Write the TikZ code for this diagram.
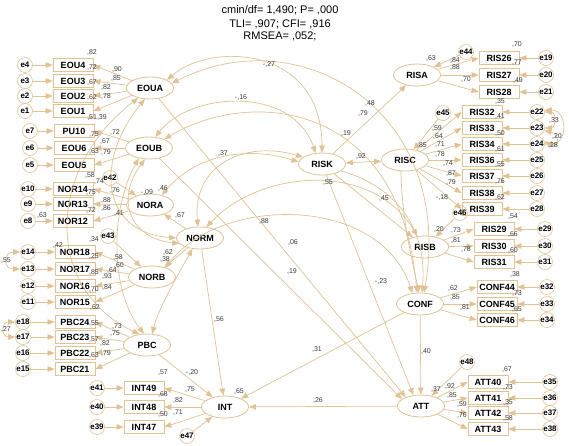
\documentclass[tikz,border=0pt]{standalone}
\usepackage{fontspec}
\setmainfont{Liberation Sans}
\usetikzlibrary{shapes.geometric,arrows.meta}
\definecolor{amos}{RGB}{224,194,148}
\definecolor{numc}{RGB}{60,60,60}
\newcounter{lc}
\newcommand\wl[2]{\stepcounter{lc}\node[lbl] (L\thelc) at (#1) {#2};}
\begin{document}
\begin{tikzpicture}[x=1pt,y=-1pt,
  lat/.style={ellipse, draw=amos, line width=0.8pt, minimum width=47pt, minimum height=22pt, inner sep=0pt, font=\bfseries\fontsize{9}{10}\selectfont},
  obs/.style={rectangle, draw=amos, line width=0.8pt, minimum width=40pt, minimum height=13pt, inner sep=0pt, font=\bfseries\fontsize{9}{10}\selectfont},
  err/.style={circle, draw=amos, line width=0.6pt, minimum size=15pt, inner sep=0pt, font=\bfseries\fontsize{8}{9}\selectfont},
  arr/.style={draw=amos, line width=0.7pt, -{Triangle[length=7pt,width=5.5pt]}},
  cov/.style={draw=amos, line width=0.7pt, {Triangle[length=7pt,width=5.5pt]}-{Triangle[length=7pt,width=5.5pt]}},
  lbl/.style={font=\fontsize{7}{8}\selectfont, text=numc, inner sep=0pt},
  ttl/.style={font=\fontsize{11}{12}\selectfont, inner sep=0pt}]
\fill[white] (0,0) rectangle (569,445);
\useasboundingbox (0,0) rectangle (569,445);
% title
\node[ttl] (t1) at (280,10) {cmin/df= 1,490; P= ,000};
\node[ttl] (t2) at (280,24) {TLI= ,907; CFI= ,916};
\node[ttl] (t3) at (280,36) {RMSEA= ,052;};
% latent variables
\node[lat] (EOUA) at (150,88) {EOUA};
\node[lat] (EOUB) at (149,148) {EOUB};
\node[lat] (NORA) at (150,205) {NORA};
\node[lat] (NORM) at (200,238) {NORM};
\node[lat] (NORB) at (152,277) {NORB};
\node[lat] (PBC) at (147,345) {PBC};
\node[lat] (INT) at (225,407) {INT};
\node[lat] (RISK) at (322,164) {RISK};
\node[lat] (RISA) at (417,75) {RISA};
\node[lat] (RISC) at (405,160) {RISC};
\node[lat] (RISB) at (425,247) {RISB};
\node[lat] (CONF) at (420,304) {CONF};
\node[lat] (ATT) at (421,406) {ATT};
% observed boxes, left
\foreach \n/\y in {EOU4/65,EOU3/81,EOU2/96,EOU1/111} \node[obs] (\n) at (73,\y) {\n};
\foreach \n/\y in {PU10/131,EOU6/148,EOU5/165} \node[obs] (\n) at (74,\y) {\n};
\foreach \n/\y in {NOR14/189,NOR13/204,NOR12/221} \node[obs] (\n) at (73,\y) {\n};
\foreach \n/\y in {NOR18/252,NOR17/269,NOR16/286,NOR15/302} \node[obs] (\n) at (75,\y) {\n};
\foreach \n/\y in {PBC24/322,PBC23/337,PBC22/353,PBC21/369} \node[obs] (\n) at (75,\y) {\n};
\foreach \n/\y in {INT49/388,INT48/407,INT47/427} \node[obs] (\n) at (144,\y) {\n};
% observed boxes, right
\foreach \n/\y in {RIS26/58,RIS27/75,RIS28/92} \node[obs] (\n) at (499,\y) {\n};
\foreach \n/\y in {RIS32/112,RIS33/128,RIS34/144,RIS36/160,RIS37/176,RIS38/193,RIS39/209} \node[obs] (\n) at (482,\y) {\n};
\foreach \n/\y in {RIS29/229,RIS30/246,RIS31/262} \node[obs] (\n) at (494,\y) {\n};
\foreach \n/\y in {CONF44/287,CONF45/304,CONF46/320} \node[obs] (\n) at (497,\y) {\n};
\foreach \n/\y in {ATT40/382,ATT41/398,ATT42/413,ATT43/429} \node[obs] (\n) at (488,\y) {\n};
% error terms
\foreach \n/\x/\y in {e4/25/65,e3/25/81,e2/25/96,e1/25/111,e7/30/131,e6/30/148,e5/30/165,
  e10/28/189,e9/28/204,e8/28/221,e14/28/252,e13/28/269,e12/28/286,e11/28/302,
  e18/23/322,e17/23/337,e16/23/353,e15/23/369,e41/97/388,e40/97/407,e39/97/427,
  e47/187/436,e48/467/362,e42/110/178,e43/108/236,e44/466/52,e45/443/113,e46/460/213,
  e19/546/58,e20/546/75,e21/546/92,
  e22/537/112,e23/537/128,e24/537/144,e25/537/160,e26/537/176,e27/537/193,e28/537/209,
  e29/545/229,e30/545/246,e31/545/262,e32/547/287,e33/547/304,e34/547/320,
  e35/550/382,e36/550/398,e37/550/413,e38/550/429}
  \node[err] (\n) at (\x,\y) {\n};
% error -> indicator, left side
\foreach \e/\b in {e4/EOU4,e3/EOU3,e2/EOU2,e1/EOU1,e7/PU10,e6/EOU6,e5/EOU5,
  e10/NOR14,e9/NOR13,e8/NOR12,e14/NOR18,e13/NOR17,e12/NOR16,e11/NOR15,
  e18/PBC24,e17/PBC23,e16/PBC22,e15/PBC21,e41/INT49,e40/INT48,e39/INT47}
  \draw[arr] (\e) -- (\b.west);
% error -> indicator, right side
\foreach \e/\b in {e19/RIS26,e20/RIS27,e21/RIS28,e22/RIS32,e23/RIS33,e24/RIS34,e25/RIS36,
  e26/RIS37,e27/RIS38,e28/RIS39,e29/RIS29,e30/RIS30,e31/RIS31,e32/CONF44,e33/CONF45,
  e34/CONF46,e35/ATT40,e36/ATT41,e37/ATT42,e38/ATT43}
  \draw[arr] (\e) -- (\b.east);
% loadings, left
\foreach \b in {EOU4,EOU3,EOU2,EOU1} \draw[arr] (EOUA) -- (\b.east);
\foreach \b in {PU10,EOU6,EOU5} \draw[arr] (EOUB) -- (\b.east);
\foreach \b in {NOR14,NOR13,NOR12} \draw[arr] (NORA) -- (\b.east);
\foreach \b in {NOR18,NOR17,NOR16,NOR15} \draw[arr] (NORB) -- (\b.east);
\foreach \b in {PBC24,PBC23,PBC22,PBC21} \draw[arr] (PBC) -- (\b.east);
\foreach \b in {INT49,INT48,INT47} \draw[arr] (INT) -- (\b.east);
% loadings, right
\foreach \b in {RIS26,RIS27,RIS28} \draw[arr] (RISA) -- (\b.west);
\foreach \b in {RIS32,RIS33,RIS34,RIS36,RIS37,RIS38,RIS39} \draw[arr] (RISC) -- (\b.west);
\foreach \b in {RIS29,RIS30,RIS31} \draw[arr] (RISB) -- (\b.west);
\foreach \b in {CONF44,CONF45,CONF46} \draw[arr] (CONF) -- (\b.west);
\foreach \b in {ATT40,ATT41,ATT42,ATT43} \draw[arr] (ATT) -- (\b.west);
% residual covariances
\draw[cov] (e14.west) .. controls (3,252) and (3,269) .. (e13.west);
\draw[cov] (e18.west) .. controls (1,322) and (1,337) .. (e17.west);
\draw[cov] (e22.east) .. controls (556,112) and (556,128) .. (e23.east);
\draw[cov] (e22.15) .. controls (568,110) and (568,144) .. (e24.east);
\draw[cov] (e23.340) .. controls (560,134) and (560,150) .. (e24.20);
% second order and structural paths
\draw[arr] (NORM) -- (NORA);
\draw[arr] (NORM) -- (NORB);
\draw[arr] (e42) -- (NORA);
\draw[arr] (e43) -- (NORB);
\draw[arr] (RISK) -- (RISA);
\draw[cov] (RISK) -- (RISC);
\draw[arr] (RISK) -- (RISB);
\draw[arr] (e44) -- (RISA);
\draw[arr] (e45) -- (RISC);
\draw[arr] (e46) -- (RISB);
\draw[arr] (RISC.250) .. controls (402,220) and (412,260) .. (CONF.95);
\draw[arr] (RISK.340) .. controls (392,185) and (428,225) .. (CONF.80);
\draw[arr] (CONF) -- (ATT);
\draw[arr] (CONF) -- (INT);
\draw[arr] (ATT) -- (INT);
\draw[arr] (RISK) -- (ATT.125);
\draw[arr] (EOUA) -- (ATT.150);
\draw[arr] (EOUB) -- (ATT.160);
\draw[arr] (NORM) -- (INT);
\draw[arr] (PBC) -- (INT);
\draw[arr] (e47) -- (INT);
\draw[arr] (e48) -- (ATT);
% covariances among exogenous factors
\draw[cov] (EOUA.25) .. controls (210,42) and (322,45) .. (RISK.90);
\draw[cov] (EOUA.12) .. controls (300,18) and (455,110) .. (CONF.70);
\draw[cov] (EOUB.60) .. controls (190,92) and (292,85) .. (RISK.120);
\draw[cov] (EOUB.30) .. controls (250,88) and (400,100) .. (CONF.105);
\draw[cov] (NORA.40) .. controls (200,150) and (255,148) .. (RISK.175);
\draw[cov] (NORM.100) .. controls (192,165) and (245,140) .. (RISK.160);
\draw[cov] (NORM.60) .. controls (260,170) and (372,160) .. (RISB.125);
\draw[cov] (NORB.35) .. controls (222,195) and (380,195) .. (CONF.125);
\draw[cov] (EOUA.220) .. controls (45,170) and (45,290) .. (PBC.125);
\draw[cov] (EOUB.225) .. controls (110,210) and (110,290) .. (PBC.105);
\draw[cov] (NORM.235) .. controls (175,280) and (158,310) .. (PBC.65);
\draw[cov] (EOUA.245) .. controls (95,160) and (100,232) .. (NORM.180);
\draw[cov] (EOUB.250) .. controls (115,200) and (130,238) .. (NORM.195);
% estimates
\wl{92,53}{,82}\wl{92,67}{,72}\wl{117,69}{,90}\wl{116,78}{,85}\wl{92,82}{,67}
\wl{106,87}{,82}\wl{106,96}{,78}\wl{92,97}{,62}\wl{97,117}{,51,39}
\wl{115,132}{,72}\wl{94,135}{,75}\wl{105,141}{,67}\wl{94,151}{,63}\wl{106,152}{,79}
\wl{90,175}{,58}\wl{99,182}{,74}\wl{115,190}{,76}\wl{91,193}{,75}\wl{106,200}{,88}
\wl{91,210}{,72}\wl{106,208}{,86}\wl{119,214}{,41}\wl{42,215}{,63}
\wl{147,192}{-,09}\wl{163,188}{,46}\wl{180,215}{,67}
\wl{94,239}{,34}\wl{58,245}{,42}\wl{6,261}{,55}\wl{94,256}{,25}\wl{118,257}{,58}
\wl{119,265}{,60}\wl{112,270}{,64}\wl{94,272}{,85}\wl{107,276}{,93}\wl{107,287}{,84}
\wl{94,289}{,70}\wl{168,252}{,62}\wl{165,259}{,38}\wl{95,307}{,62}
\wl{6,329}{,27}\wl{94,324}{,55}\wl{117,326}{,73}\wl{115,334}{,75}\wl{94,340}{,57}
\wl{105,343}{,82}\wl{106,353}{,79}\wl{94,355}{,63}
\wl{192,372}{-,20}\wl{163,373}{,57}\wl{190,390}{,75}\wl{163,394}{,68}\wl{178,400}{,82}
\wl{178,413}{,71}\wl{163,414}{,50}\wl{219,319}{,56}\wl{317,349}{,31}\wl{239,391}{,65}
\wl{318,400}{,26}\wl{426,351}{,40}\wl{264,221}{,88}\wl{293,242}{,06}\wl{292,271}{,19}
\wl{381,281}{-,23}\wl{384,199}{,45}\wl{269,64}{-,27}\wl{241,97}{-,16}\wl{370,103}{,48}
\wl{363,113}{,79}\wl{346,133}{,19}\wl{223,153}{,37}\wl{361,156}{,92}\wl{328,183}{,55}
\wl{431,58}{,63}\wl{455,60}{,84}\wl{455,67}{,88}\wl{517,45}{,70}\wl{517,63}{,77}
\wl{466,79}{,70}\wl{518,80}{,49}\wl{500,101}{,35}\wl{500,117}{,41}\wl{554,120}{,33}
\wl{437,128}{,59}\wl{438,136}{,64}\wl{500,133}{,50}\wl{557,136}{,20}\wl{553,145}{,28}
\wl{440,145}{,71}\wl{500,149}{,61}\wl{422,145}{,85}\wl{440,154}{,78}\wl{448,164}{,74}
\wl{500,165}{,55}\wl{451,173}{,87}\wl{500,181}{,76}\wl{451,182}{,79}\wl{500,197}{,62}
\wl{442,197}{-,18}\wl{513,217}{,54}\wl{439,229}{,20}\wl{456,230}{,73}\wl{456,240}{,81}
\wl{513,234}{,66}\wl{466,249}{,78}\wl{513,250}{,60}\wl{515,274}{,38}
\wl{453,288}{,62}\wl{517,293}{,73}\wl{455,297}{,85}\wl{517,309}{,65}\wl{465,307}{,81}
\wl{507,369}{,67}\wl{436,389}{,37}\wl{450,386}{,92}\wl{452,395}{,85}\wl{508,387}{,73}
\wl{462,404}{,59}\wl{508,402}{,35}\wl{462,415}{,76}\wl{508,418}{,58}
\end{tikzpicture}
\end{document}
